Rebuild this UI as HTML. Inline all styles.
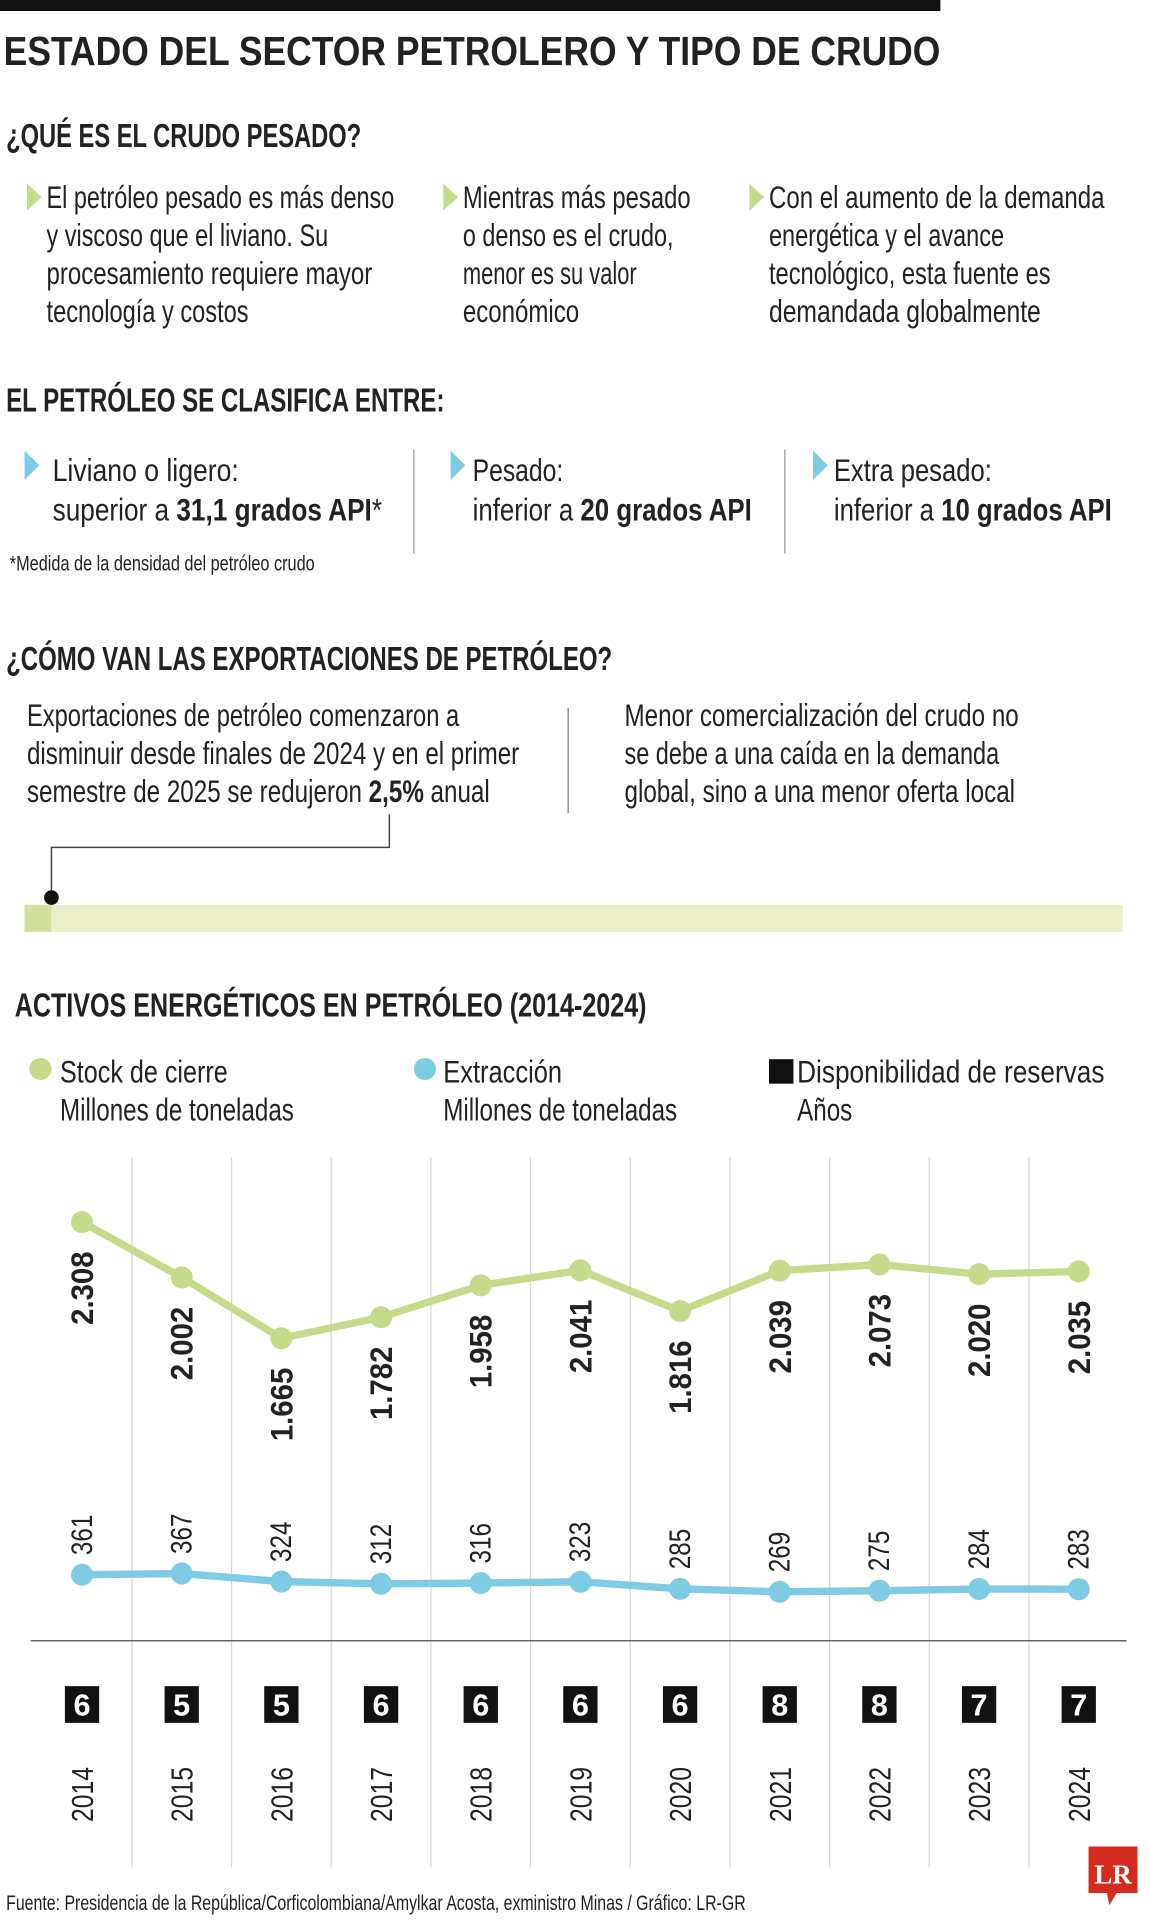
<!DOCTYPE html>
<html><head><meta charset="utf-8">
<style>
html,body{margin:0;padding:0;background:#fff;}
svg{display:block;}
text{font-family:"Liberation Sans Narrow","Liberation Sans",sans-serif;fill:#222;}
.t{font-size:26px;}
.b{font-weight:bold;}
</style></head>
<body>
<svg id="chart" width="1151" height="1920" viewBox="0 0 940 1568" preserveAspectRatio="none" xmlns="http://www.w3.org/2000/svg">
<rect x="0" y="0" width="768" height="9" fill="#111"/>
<text class="b" x="3" y="53" font-size="33" textLength="765" lengthAdjust="spacingAndGlyphs" fill="#111">ESTADO DEL SECTOR PETROLERO Y TIPO DE CRUDO</text>

<text class="b" x="5" y="120" font-size="27" textLength="290" lengthAdjust="spacingAndGlyphs">¿QUÉ ES EL CRUDO PESADO?</text>
<g>
<polygon points="22,150 34,161 22,172" fill="#c5da8a"/>
<polygon points="362,150 374,161 362,172" fill="#c5da8a"/>
<polygon points="612,150 624,161 612,172" fill="#c5da8a"/>
<text class="t" x="38" y="170" textLength="284" lengthAdjust="spacingAndGlyphs">El petróleo pesado es más denso</text>
<text class="t" x="38" y="201" textLength="230" lengthAdjust="spacingAndGlyphs">y viscoso que el liviano. Su</text>
<text class="t" x="38" y="232" textLength="266" lengthAdjust="spacingAndGlyphs">procesamiento requiere mayor</text>
<text class="t" x="38" y="263" textLength="165" lengthAdjust="spacingAndGlyphs">tecnología y costos</text>
<text class="t" x="378" y="170" textLength="186" lengthAdjust="spacingAndGlyphs">Mientras más pesado</text>
<text class="t" x="378" y="201" textLength="172" lengthAdjust="spacingAndGlyphs">o denso es el crudo,</text>
<text class="t" x="378" y="232" textLength="142" lengthAdjust="spacingAndGlyphs">menor es su valor</text>
<text class="t" x="378" y="263" textLength="95" lengthAdjust="spacingAndGlyphs">económico</text>
<text class="t" x="628" y="170" textLength="274" lengthAdjust="spacingAndGlyphs">Con el aumento de la demanda</text>
<text class="t" x="628" y="201" textLength="192" lengthAdjust="spacingAndGlyphs">energética y el avance</text>
<text class="t" x="628" y="232" textLength="230" lengthAdjust="spacingAndGlyphs">tecnológico, esta fuente es</text>
<text class="t" x="628" y="263" textLength="222" lengthAdjust="spacingAndGlyphs">demandada globalmente</text>
</g>

<text class="b" x="5" y="336" font-size="27" textLength="358" lengthAdjust="spacingAndGlyphs">EL PETRÓLEO SE CLASIFICA ENTRE:</text>
<g>
<polygon points="20,368 32,380 20,392" fill="#7ecbe4"/>
<polygon points="368,368 380,380 368,392" fill="#7ecbe4"/>
<polygon points="664,368 676,380 664,392" fill="#7ecbe4"/>
<line x1="338" y1="367" x2="338" y2="452" stroke="#999" stroke-width="1"/>
<line x1="641" y1="367" x2="641" y2="452" stroke="#999" stroke-width="1"/>
<text class="t" x="43" y="393" textLength="152" lengthAdjust="spacingAndGlyphs" fill="#111">Liviano o ligero:</text>
<text class="t" x="43" y="425" textLength="269" lengthAdjust="spacingAndGlyphs">superior a <tspan class="b">31,1 grados API</tspan>*</text>
<text class="t" x="386" y="393" textLength="74" lengthAdjust="spacingAndGlyphs" fill="#111">Pesado:</text>
<text class="t" x="386" y="425" textLength="228" lengthAdjust="spacingAndGlyphs">inferior a <tspan class="b">20 grados API</tspan></text>
<text class="t" x="681" y="393" textLength="129" lengthAdjust="spacingAndGlyphs" fill="#111">Extra pesado:</text>
<text class="t" x="681" y="425" textLength="227" lengthAdjust="spacingAndGlyphs">inferior a <tspan class="b">10 grados API</tspan></text>
<text x="8" y="466" font-size="17" textLength="249" lengthAdjust="spacingAndGlyphs">*Medida de la densidad del petróleo crudo</text>
</g>

<text class="b" x="5" y="547" font-size="27" textLength="495" lengthAdjust="spacingAndGlyphs">¿CÓMO VAN LAS EXPORTACIONES DE PETRÓLEO?</text>
<g>
<text class="t" x="22" y="593" textLength="353" lengthAdjust="spacingAndGlyphs">Exportaciones de petróleo comenzaron a</text>
<text class="t" x="22" y="624" textLength="402" lengthAdjust="spacingAndGlyphs">disminuir desde finales de 2024 y en el primer</text>
<text class="t" x="22" y="655" textLength="378" lengthAdjust="spacingAndGlyphs">semestre de 2025 se redujeron <tspan class="b">2,5%</tspan> anual</text>
<line x1="464" y1="578" x2="464" y2="664" stroke="#777" stroke-width="1"/>
<text class="t" x="510" y="593" textLength="322" lengthAdjust="spacingAndGlyphs">Menor comercialización del crudo no</text>
<text class="t" x="510" y="624" textLength="306" lengthAdjust="spacingAndGlyphs">se debe a una caída en la demanda</text>
<text class="t" x="510" y="655" textLength="319" lengthAdjust="spacingAndGlyphs">global, sino a una menor oferta local</text>
</g>
<g>
<polyline points="318,665 318,692 42,692 42,733" fill="none" stroke="#444" stroke-width="1.2"/>
<rect x="20" y="739" width="897" height="22" fill="#eaefc7"/>
<rect x="20" y="739" width="22" height="22" fill="#d2e09e"/>
<circle cx="42" cy="733" r="6" fill="#111"/>
</g>

<text class="b" x="12" y="830" font-size="27" textLength="516" lengthAdjust="spacingAndGlyphs">ACTIVOS ENERGÉTICOS EN PETRÓLEO (2014-2024)</text>
<g>
<circle cx="33" cy="873" r="9" fill="#c5da8a"/>
<text class="t" x="49" y="884" textLength="137" lengthAdjust="spacingAndGlyphs" fill="#111">Stock de cierre</text>
<text class="t" x="49" y="915" textLength="191" lengthAdjust="spacingAndGlyphs" fill="#333">Millones de toneladas</text>
<circle cx="347" cy="873" r="9" fill="#7ecbe4"/>
<text class="t" x="362" y="884" textLength="97" lengthAdjust="spacingAndGlyphs" fill="#111">Extracción</text>
<text class="t" x="362" y="915" textLength="191" lengthAdjust="spacingAndGlyphs" fill="#333">Millones de toneladas</text>
<rect x="628" y="865" width="20" height="20" fill="#111"/>
<text class="t" x="651" y="884" textLength="251" lengthAdjust="spacingAndGlyphs" fill="#111">Disponibilidad de reservas</text>
<text class="t" x="651" y="915" textLength="45" lengthAdjust="spacingAndGlyphs" fill="#333">Años</text>
</g>
<g id="plot"></g>

<text x="5" y="1560" font-size="17" textLength="604" lengthAdjust="spacingAndGlyphs">Fuente: Presidencia de la República/Corficolombiana/Amylkar Acosta, exministro Minas / Gráfico: LR-GR</text>
<g>
<path d="M889,1508 H929 V1546 H912 L906,1556 L904,1546 H889 Z" fill="#d52b1e"/>
<text x="909" y="1538" font-size="22" text-anchor="middle" font-weight="bold" style="font-family:'Liberation Serif',serif;fill:#fff">LR</text>
</g>
</svg>
<script>
const years = ["2014","2015","2016","2017","2018","2019","2020","2021","2022","2023","2024"];
const stockValues = [2.308,2.002,1.665,1.782,1.958,2.041,1.816,2.039,2.073,2.020,2.035];
const stockLabels = ["2.308","2.002","1.665","1.782","1.958","2.041","1.816","2.039","2.073","2.020","2.035"];
const extractionValues = [361,367,324,312,316,323,285,269,275,284,283];
const reserveYears = [6,5,5,6,6,6,6,8,8,7,7];

const NS = "http://www.w3.org/2000/svg";
const plot = document.getElementById('plot');
function xPos(i){ return 67 + i * 81.4; }
function yStock(v){ return 998 - (v - 2.308) * 147.7; }
function yExt(v){ return 1286 + (361 - v) * 0.152; }
function mk(tag, attrs){ const e = document.createElementNS(NS, tag); for (const k in attrs) e.setAttribute(k, attrs[k]); plot.appendChild(e); return e; }

for (let i = 0; i < years.length - 1; i++) {
  const g = mk('line', {x1: xPos(i)+40.7, x2: xPos(i)+40.7, y1: 945, y2: 1525, stroke: '#d6d6d6', 'stroke-width': 1});
  
  
}
const axis = mk('line', {x1: 25, x2: 920, y1: 1340, y2: 1340, stroke: '#333', 'stroke-width': 1});



const sl = mk('polyline', {points: stockValues.map((v,i)=>xPos(i)+','+yStock(v)).join(' '), fill: 'none', stroke: '#c5da8a', 'stroke-width': 6, 'stroke-linejoin': 'round'});


const el = mk('polyline', {points: extractionValues.map((v,i)=>xPos(i)+','+yExt(v)).join(' '), fill: 'none', stroke: '#7ecbe4', 'stroke-width': 6, 'stroke-linejoin': 'round'});



years.forEach((y, i) => {
  const x = xPos(i);
  const ys = yStock(stockValues[i]);
  const p = mk('circle', {cx: x, cy: ys, r: 9, fill: '#c5da8a'});
  
  
  const t = mk('text', {x: 0, y: 0, transform: `translate(${x+9},${ys+24}) rotate(-90)`, 'text-anchor': 'end', 'font-size': 26, 'font-weight': 'bold', textLength: 60, lengthAdjust: 'spacingAndGlyphs'});
  t.textContent = stockLabels[i];
  
  

  const ye = yExt(extractionValues[i]);
  const q = mk('circle', {cx: x, cy: ye, r: 9, fill: '#7ecbe4'});
  
  
  const u = mk('text', {x: 0, y: 0, transform: `translate(${x+8},${ye-16}) rotate(-90)`, 'font-size': 24, fill: '#333', textLength: 33, lengthAdjust: 'spacingAndGlyphs'});
  u.textContent = extractionValues[i];
  
  

  const b = mk('rect', {x: x-14, y: 1377, width: 28, height: 30, fill: '#111'});
  
  
  const n = mk('text', {x: x, y: 1401, 'text-anchor': 'middle', 'font-size': 25, 'font-weight': 'bold', style: 'fill:#fff'});
  n.textContent = reserveYears[i];
  
  

  const yl = mk('text', {x: 0, y: 0, transform: `translate(${x+9},${1488}) rotate(-90)`, 'font-size': 25, fill: '#333', textLength: 45, lengthAdjust: 'spacingAndGlyphs'});
  yl.textContent = y;
  
  
});
</script>
</body></html>
